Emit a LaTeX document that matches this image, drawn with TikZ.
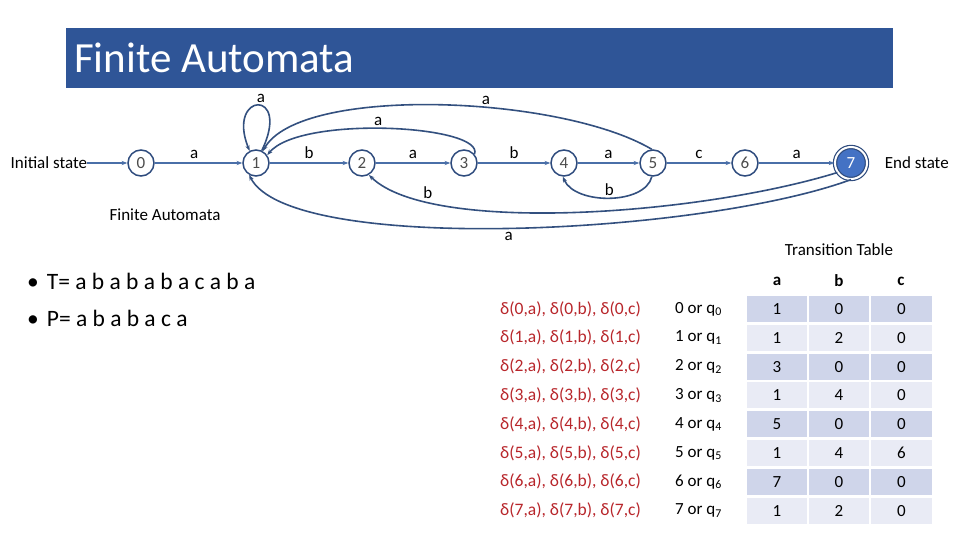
\documentclass[tikz,border=0pt]{standalone}
\usepackage{fontspec}
\setmainfont{Carlito}
\usetikzlibrary{arrows.meta,positioning}
\definecolor{barblue}{HTML}{2F5597}
\definecolor{ringblue}{HTML}{2E4B7D}
\definecolor{edgeblue}{HTML}{4A6FA8}
\definecolor{curveblue}{HTML}{33507F}
\definecolor{fillblue}{HTML}{4472C4}
\definecolor{celldark}{HTML}{CFD5EA}
\definecolor{celllight}{HTML}{E9EBF5}
\definecolor{deltared}{HTML}{B8262B}
\tikzset{
  state/.style ={draw=ringblue,circle,minimum size=26pt,inner sep=0pt,line width=1.5pt,
                 fill=white,text=black!70,font=\fontsize{17}{20}\selectfont},
  accept/.style={state,minimum size=32pt,fill=fillblue,text=white,line width=1.2pt,
                 double=white,double distance=2pt},
  txt/.style   ={inner sep=0pt,font=\fontsize{17}{20}\selectfont},
  lbl/.style   ={font=\fontsize{17}{20}\selectfont,inner sep=2pt,text=black},
  flow/.style  ={-{Stealth[length=2mm]},line width=1.4pt,edgeblue},
  back/.style  ={-{Stealth[length=2mm]},line width=1.6pt,curveblue},
  cell/.style  ={minimum height=26pt,inner sep=0pt,font=\fontsize{17}{20}\selectfont},
  rowlbl/.style={txt,anchor=west,text=deltared,font=\fontsize{17.5}{20}\selectfont},
}

\begin{document}
\begin{tikzpicture}[x=1pt,y=-1pt]
\useasboundingbox (0,0) rectangle (960,540);
\fill[white] (0,0) rectangle (960,540);
% title bar
\fill[barblue] (66,28) rectangle (893,88);
\node[anchor=west,inner sep=0pt,text=white,font=\fontsize{43}{48}\selectfont] (title) at (74,58) {Finite Automata};

% states
\node[state] (s0) at (141,163) {0};
\node[state] (s1) at (256,163) {1};
\node[state] (s2) at (362,163) {2};
\node[state] (s3) at (464,163) {3};
\node[state] (s4) at (564,163) {4};
\node[state] (s5) at (653,163) {5};
\node[state] (s6) at (745,163) {6};
\node[accept] (s7) at (851,163) {7};
\node[txt,left=40pt of s0] (init) {Initial state};
\node[txt,right=17pt of s7] (fin) {End state};
\node[txt] (sub) at (165,215) {Finite Automata};

% forward edges
\draw[flow] (init) -- (s0);
\draw[flow] (s0) -- node[lbl,above=2pt,pos=0.45]{a} (s1);
\draw[flow] (s1) -- node[lbl,above=2pt]{b} (s2);
\draw[flow] (s2) -- node[lbl,above=2pt]{a} (s3);
\draw[flow] (s3) -- node[lbl,above=2pt]{b} (s4);
\draw[flow] (s4) -- node[lbl,above=2pt]{a} (s5);
\draw[flow] (s5) -- node[lbl,above=2pt]{c} (s6);
\draw[flow] (s6) -- node[lbl,above=2pt]{a} (s7);

% fallback edges
\draw[back] (s1.65) .. controls (292,88) and (226,92) .. node[lbl,above,pos=0.45]{a} (s1.118);
\draw[back] (s3.40) .. controls (485,125) and (300,115) .. node[lbl,above,pos=0.53]{a} (s1.35);
\draw[back] (s5.95) .. controls (560,95) and (300,85) .. node[lbl,above,pos=0.4]{a} (s1.60);
\draw[back] (s5.265) .. controls (645,205) and (575,205) .. node[lbl,above]{b} (s4.265);
\draw[back] (s7.215) .. controls (700,215) and (430,235) .. node[lbl,above,pos=0.8]{b} (s2.300);
\draw[back] (s7.270) .. controls (700,235) and (290,255) .. node[lbl,below=1pt]{a} (s1.240);

% strings
\node[anchor=west,inner sep=0pt,font=\fontsize{23.5}{27}\selectfont] (ttext) at (27,281) {\textbullet\hspace{8pt}T= a b a b a b a c a b a};
\node[anchor=west,inner sep=0pt,font=\fontsize{23.5}{27}\selectfont] (ptext) at (27,318) {\textbullet\hspace{8pt}P= a b a b a c a};

% transition table
\node[txt] (ttl) at (839,250) {Transition Table};
\node[txt,font=\fontsize{17}{20}\bfseries] (ha) at (777,281) {a};
\node[txt,font=\fontsize{17}{20}\bfseries] (hb) at (839,281) {b};
\node[txt,font=\fontsize{17}{20}\bfseries] (hc) at (901,281) {c};
\foreach \r/\va/\vb/\vc/\cc in {0/1/0/0/celldark,1/1/2/0/celllight,2/3/0/0/celldark,3/1/4/0/celllight,
                                 4/5/0/0/celldark,5/1/4/6/celllight,6/7/0/0/celldark,7/1/2/0/celllight}{
  \pgfmathsetmacro\yc{309+28.8*\r}
  \node[cell,fill=\cc,minimum width=60pt] (ca\r) at (777,\yc) {\va};
  \node[cell,fill=\cc,minimum width=60pt] (cb\r) at (839,\yc) {\vb};
  \node[cell,fill=\cc,minimum width=61pt] (cc\r) at (901.5,\yc) {\vc};
  \node[rowlbl] (d\r) at (500,\yc) {δ(\r,a), δ(\r,b), δ(\r,c)};
  \node[txt,anchor=west] (q\r) at (675,\yc) {\r{} or q\textsubscript{\r}};
}
\end{tikzpicture}
\end{document}
